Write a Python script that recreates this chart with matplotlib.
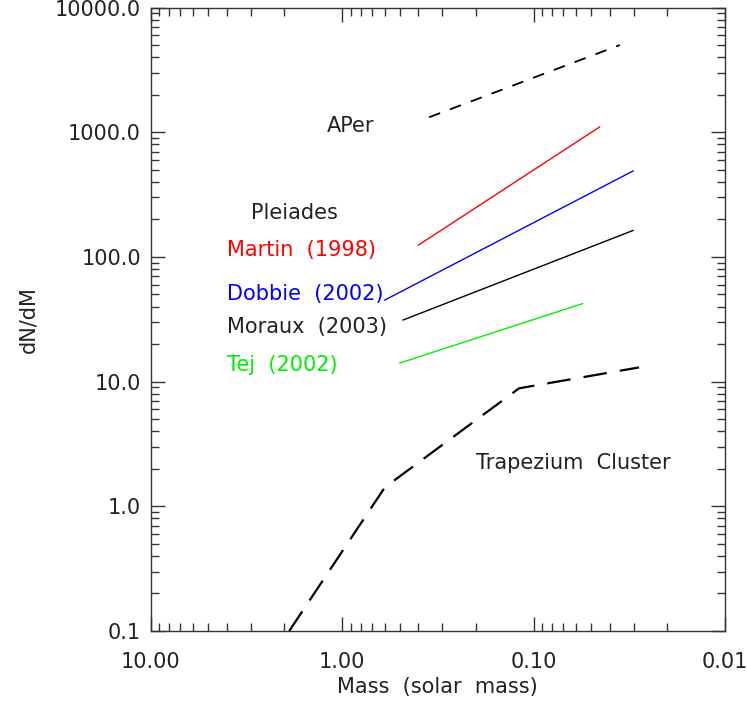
import matplotlib
matplotlib.use("Agg")
import matplotlib.pyplot as plt
from matplotlib.ticker import FixedLocator, LogLocator, NullFormatter

# mass (solar mass) and dN/dM
aper_mass = [0.351, 0.0354]
aper_dndm = [1318.0, 5000.0]

martin_mass = [0.399, 0.0452]
martin_dndm = [124.5, 1101.0]

dobbie_mass = [0.598, 0.0302]
dobbie_dndm = [45.1, 489.0]

moraux_mass = [0.48, 0.0302]
moraux_dndm = [31.2, 163.0]

tej_mass = [0.499, 0.0555]
tej_dndm = [14.1, 42.2]

trap_mass = [1.89, 0.598, 0.119, 0.0281]
trap_dndm = [0.1, 1.42, 8.84, 13.0]

x_ticks = [10.0, 1.0, 0.1, 0.01]
x_tick_labels = ["10.00", "1.00", "0.10", "0.01"]
y_ticks = [0.1, 1.0, 10.0, 100.0, 1000.0, 10000.0]
y_tick_labels = ["0.1", "1.0", "10.0", "100.0", "1000.0", "10000.0"]

plt.rcParams["font.family"] = ["DejaVu Sans"]
plt.rcParams["lines.scale_dashes"] = False
TXT = "#222222"
FS = 15

fig = plt.figure(figsize=(7.47, 7.02), dpi=100)
ax = fig.add_axes([0.2017, 0.1011, 0.7688, 0.8882])

ax.plot(aper_mass, aper_dndm, color="black", lw=1.3, dashes=(8.5, 7.5))
ax.plot(martin_mass, martin_dndm, color="red", lw=1.0)
ax.plot(dobbie_mass, dobbie_dndm, color="blue", lw=1.0)
ax.plot(moraux_mass, moraux_dndm, color="black", lw=1.0)
ax.plot(tej_mass, tej_dndm, color="#00ee00", lw=1.0)
ax.plot(trap_mass, trap_dndm, color="black", lw=1.6, dashes=(17, 9.5))

ax.set_xscale("log")
ax.set_yscale("log")
ax.set_xlim(10.0, 0.01)
ax.set_ylim(0.1, 10000.0)

# labels (wide word gaps like the original font)
ax.text(1.205, 1122, "APer", color=TXT, fontsize=FS, va="center")
ax.text(3.0, 226, "Pleiades", color=TXT, fontsize=FS, va="center")
ax.text(4.0, 113.5, "Martin  (1998)", color="red", fontsize=FS, va="center")
ax.text(4.0, 50.4, "Dobbie  (2002)", color="blue", fontsize=FS, va="center")
ax.text(4.0, 27.5, "Moraux  (2003)", color=TXT, fontsize=FS, va="center")
ax.text(4.0, 13.6, "Tej  (2002)", color="#00ee00", fontsize=FS, va="center")
ax.text(0.2, 2.24, "Trapezium  Cluster", color=TXT, fontsize=FS, va="center")

ax.xaxis.set_major_locator(FixedLocator(x_ticks))
ax.set_xticklabels(x_tick_labels)
ax.xaxis.set_minor_locator(LogLocator(base=10, subs=range(2, 10)))
ax.xaxis.set_minor_formatter(NullFormatter())
ax.yaxis.set_major_locator(FixedLocator(y_ticks))
ax.set_yticklabels(y_tick_labels)
ax.yaxis.set_minor_locator(LogLocator(base=10, subs=range(2, 10)))
ax.yaxis.set_minor_formatter(NullFormatter())

ax.tick_params(which="both", direction="in", top=True, right=True,
               colors="#333333", labelcolor=TXT, labelsize=FS)
ax.tick_params(which="major", length=10, width=1.0)
ax.tick_params(which="minor", length=5.5, width=1.0)
ax.tick_params(axis="x", which="major", pad=15)
ax.tick_params(axis="y", which="major", pad=7)
for s in ax.spines.values():
    s.set_linewidth(1.0)
    s.set_color("#333333")

ax.set_xlabel("Mass  (solar  mass)", fontsize=FS, color=TXT, labelpad=4)
ax.set_ylabel("dN/dM", fontsize=FS, color=TXT, labelpad=12)

fig.savefig("out.png", dpi=100)
